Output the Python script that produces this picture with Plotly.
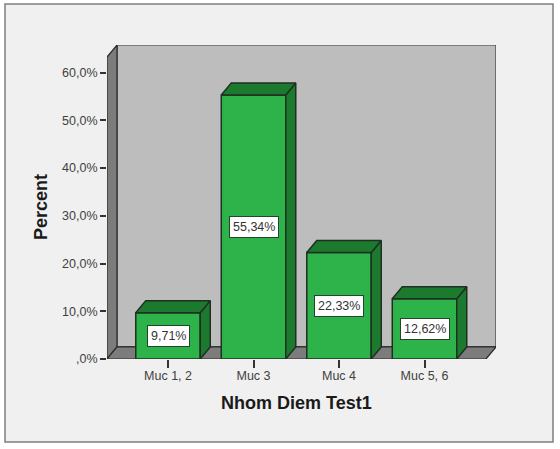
import plotly.graph_objects as go

categories = ['Muc 1, 2', 'Muc 3', 'Muc 4', 'Muc 5, 6']
percents = [9.71, 55.34, 22.33, 12.62]
value_labels = ['9,71%', '55,34%', '22,33%', '12,62%']
y_ticks = [0, 10, 20, 30, 40, 50, 60]
y_tick_labels = [',0%', '10,0%', '20,0%', '30,0%', '40,0%', '50,0%', '60,0%']

# fake 3d depth, in axis units
depth_x = 0.117
depth_y = 2.52
bar_width = 0.754
x_min, x_max = -0.7135, 3.836
y_max = 65.8

green = '#2db34a'
dark_green = '#1c7a2e'
edge = '#1f2f22'
font_name = 'Liberation Sans'

W, H = 560, 449
left, right, top, bottom = 107, 64, 45, 90
plot_w = W - left - right
plot_h = H - top - bottom


def paper_x(px):
    return (px - left) / plot_w


def paper_y(px):
    return (H - bottom - px) / plot_h


def poly(points):
    return 'M ' + ' L '.join(f'{a} {b}' for a, b in points) + ' Z'


x_pos = list(range(len(categories)))

fig = go.Figure()
fig.add_trace(go.Bar(x=x_pos, y=percents, width=bar_width, marker_color=green,
                     marker_line=dict(color=edge, width=1.5), hoverinfo='x+y'))

# side and top faces of each bar
for x, v in zip(x_pos, percents):
    x0, x1 = x - bar_width / 2, x + bar_width / 2
    fig.add_trace(go.Scatter(
        x=[x1, x1 + depth_x, x1 + depth_x, x1, x1],
        y=[0, depth_y, v + depth_y, v, 0],
        mode='lines', fill='toself', fillcolor=dark_green,
        line=dict(color=edge, width=1.5), hoverinfo='skip'))
    fig.add_trace(go.Scatter(
        x=[x0, x0 + depth_x, x1 + depth_x, x1, x0],
        y=[v, v + depth_y, v + depth_y, v, v],
        mode='lines', fill='toself', fillcolor=dark_green,
        line=dict(color=edge, width=1.5), hoverinfo='skip'))

# grey panel behind the chart
shapes = [dict(type='rect', xref='paper', yref='paper', layer='below',
               x0=paper_x(5), x1=paper_x(553), y0=paper_y(442), y1=paper_y(4),
               fillcolor='#f0f0f0', line=dict(color='#7f7f7f', width=1.5))]

# back wall, left wall, floor
front_x = x_max - depth_x
shapes.append(dict(type='path', xref='x', yref='y', layer='below',
                   path=poly([(x_min + depth_x, depth_y), (x_min + depth_x, y_max),
                              (x_max, y_max), (x_max, depth_y)]),
                   fillcolor='#bdbdbd', line=dict(color='#3a3a3a', width=1.2)))
shapes.append(dict(type='path', xref='x', yref='y', layer='below',
                   path=poly([(x_min, 0), (x_min + depth_x, depth_y), (x_min + depth_x, y_max),
                              (x_min, y_max - depth_y)]),
                   fillcolor='#7c7c7c', line=dict(color='#2a2a2a', width=1.2)))
shapes.append(dict(type='path', xref='x', yref='y', layer='below',
                   path=poly([(x_min, 0), (x_min + depth_x, depth_y), (x_max, depth_y), (front_x, 0)]),
                   fillcolor='#7c7c7c', line=dict(color='#2a2a2a', width=1.2)))

annotations = []
for x, v, label in zip(x_pos, percents, value_labels):
    annotations.append(dict(x=x, y=v / 2, xref='x', yref='y', text=label, showarrow=False,
                            bgcolor='white', bordercolor='#24452c', borderwidth=1, borderpad=3,
                            font=dict(family=font_name, size=12.5, color='#333333')))
annotations.append(dict(x=paper_x(296), y=paper_y(403), xref='paper', yref='paper',
                        xanchor='center', yanchor='middle',
                        text='<b>Nhom Diem Test1</b>', showarrow=False,
                        font=dict(family=font_name, size=18, color='#1a1a1a')))
annotations.append(dict(x=paper_x(41), y=paper_y(207), xref='paper', yref='paper',
                        xanchor='center', yanchor='middle',
                        text='<b>Percent</b>', showarrow=False, textangle=-90,
                        font=dict(family=font_name, size=18, color='#1a1a1a')))

fig.update_layout(
    width=W, height=H, autosize=False,
    margin=dict(l=left, r=right, t=top, b=bottom),
    paper_bgcolor='white', plot_bgcolor='rgba(0,0,0,0)',
    showlegend=False, shapes=shapes, annotations=annotations,
    font=dict(family=font_name),
)
fig.update_xaxes(range=[x_min, x_max], tickmode='array', tickvals=x_pos, ticktext=categories,
                 ticks='outside', ticklen=8, tickwidth=1.5, tickcolor='#333333', ticklabelstandoff=-3,
                 tickfont=dict(family=font_name, size=12.5, color='#404040'),
                 showgrid=False, zeroline=False, showline=False)
fig.update_yaxes(range=[0, y_max], tickmode='array', tickvals=y_ticks, ticktext=y_tick_labels,
                 ticks='outside', ticklen=6, tickwidth=1.5, tickcolor='#333333',
                 tickfont=dict(family=font_name, size=12.5, color='#404040'),
                 showgrid=False, zeroline=False, showline=False)

# page default margin would push the figure 8px off
fig.write_html("out.html", config=dict(displayModeBar=False),
               post_script="document.body.style.margin='0';")
